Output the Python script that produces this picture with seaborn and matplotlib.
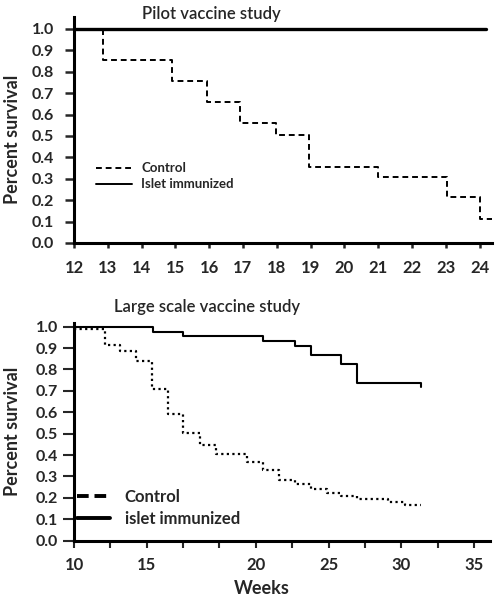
import matplotlib
matplotlib.use('Agg')
import matplotlib.pyplot as plt
import seaborn as sns
import pandas as pd
import numpy as np
from matplotlib.lines import Line2D

# Pilot vaccine study (top panel)
pilot_ctrl_weeks = [12, 12.85, 14.9, 15.95, 16.9, 17.97, 18.94, 21.0, 23.03, 24.0, 24.37]
pilot_ctrl_surv = [1.0, 0.855, 0.755, 0.66, 0.56, 0.505, 0.355, 0.31, 0.215, 0.11, 0.11]
pilot_imm_weeks = [12, 24.2]
pilot_imm_surv = [1.0, 1.0]

# Large scale vaccine study (bottom panel)
large_ctrl_weeks = [10, 11.94, 12.9, 13.9, 14.9, 15.85, 16.83, 17.9, 18.9, 20.8, 21.83,
                    22.8, 23.8, 24.8, 25.8, 26.7, 27.7, 29.6, 30.7, 31.67]
large_ctrl_surv = [0.99, 0.915, 0.885, 0.84, 0.71, 0.59, 0.505, 0.445, 0.405, 0.37, 0.33,
                   0.285, 0.265, 0.24, 0.225, 0.21, 0.195, 0.18, 0.165, 0.165]
large_imm_weeks = [10, 14.96, 16.83, 21.83, 23.8, 24.8, 26.7, 27.7, 31.67]
large_imm_surv = [1.0, 0.977, 0.956, 0.935, 0.911, 0.868, 0.824, 0.735, 0.72]

pilot_xticks = list(range(12, 25))
large_xticks = list(np.linspace(10, 35, 12))
large_xticklabels = ['10', '', '15', '', '', '20', '', '25', '', '30', '', '35']
yticks = [i / 10 for i in range(11)]

sns.set_style('ticks')
plt.rcParams['font.family'] = ['Lato', 'DejaVu Sans']

fig = plt.figure(figsize=(4.99, 6.01), dpi=100)
ax1 = fig.add_axes([0.1483, 0.5957, 0.8377, 0.376])
ax2 = fig.add_axes([0.1483, 0.1003, 0.8337, 0.3623])

# top panel
sns.lineplot(x=pilot_ctrl_weeks, y=pilot_ctrl_surv, ax=ax1, color='black', lw=1.4,
             linestyle=(0, (3, 2)), drawstyle='steps-post')
sns.lineplot(x=pilot_imm_weeks, y=pilot_imm_surv, ax=ax1, color='black', lw=2.4,
             drawstyle='steps-post')
ax1.set_xlim(12, 24.37)
ax1.set_ylim(0, 1.056)
ax1.set_xticks(pilot_xticks)
ax1.set_xticklabels([str(t) for t in pilot_xticks], fontsize=12, fontweight='bold')
ax1.set_yticks(yticks)
ax1.set_yticklabels([f'{t:.1f}' for t in yticks], fontsize=11.5, fontweight='bold')
ax1.tick_params(axis='x', length=3.6, width=1.8, pad=8.6)
ax1.tick_params(axis='y', length=6.5, width=1.8, pad=8)
ax1.set_ylabel('Percent survival', fontsize=13, fontweight='bold')
ax1.yaxis.set_label_coords(-0.127, 0.46)
fig.text(211 / 499, 1 - 14 / 601, 'Pilot vaccine study', fontsize=12, fontweight='semibold',
         ha='center', va='center')
h1 = [Line2D([], [], color='black', lw=1.4, linestyle=(0, (3, 2))),
      Line2D([], [], color='black', lw=1.4)]
ax1.legend(h1, ['Control', 'Islet immunized'], loc='upper left', bbox_to_anchor=(0.025, 0.41),
           frameon=False, handlelength=2.7, handletextpad=0.7, labelspacing=0.3,
           prop={'size': 9.5, 'weight': 'bold'})

# bottom panel
sns.lineplot(x=large_ctrl_weeks, y=large_ctrl_surv, ax=ax2, color='black', lw=1.6,
             linestyle=(0, (1, 1.5)), drawstyle='steps-post')
sns.lineplot(x=large_imm_weeks, y=large_imm_surv, ax=ax2, color='black', lw=1.5,
             drawstyle='steps-post')
ax2.set_xlim(10, 36)
ax2.set_ylim(0, 1.017)
ax2.set_xticks(large_xticks)
ax2.set_xticklabels(large_xticklabels, fontsize=12, fontweight='bold')
ax2.set_yticks(yticks)
ax2.set_yticklabels([f'{t:.1f}' for t in yticks], fontsize=11.5, fontweight='bold')
ax2.tick_params(axis='x', length=5, width=1.5, pad=7)
ax2.tick_params(axis='y', length=8, width=1.5, pad=3.5)
ax2.set_ylabel('Percent survival', fontsize=13, fontweight='bold')
ax2.yaxis.set_label_coords(-0.128, 0.5)
ax2.set_xlabel('Weeks', fontsize=13, fontweight='bold')
ax2.xaxis.set_label_coords(0.452, -0.179)
fig.text(207 / 499, 1 - 307 / 601, 'Large scale vaccine study', fontsize=12, fontweight='semibold',
         ha='center', va='center')
h2 = [Line2D([], [], color='black', lw=2.8, linestyle=(0, (3, 1.5))),
      Line2D([], [], color='black', lw=2.8)]
ax2.legend(h2, ['Control', 'islet immunized'], loc='upper left', bbox_to_anchor=(-0.03, 0.307),
           frameon=False, handlelength=2.0, handletextpad=0.9, labelspacing=0.35,
           prop={'size': 12, 'weight': 'bold'})

for ax in (ax1, ax2):
    sns.despine(ax=ax)
    for s in ('left', 'bottom'):
        ax.spines[s].set_linewidth(2.2)
        ax.spines[s].set_color('black')

fig.savefig('out.png', dpi=100)
